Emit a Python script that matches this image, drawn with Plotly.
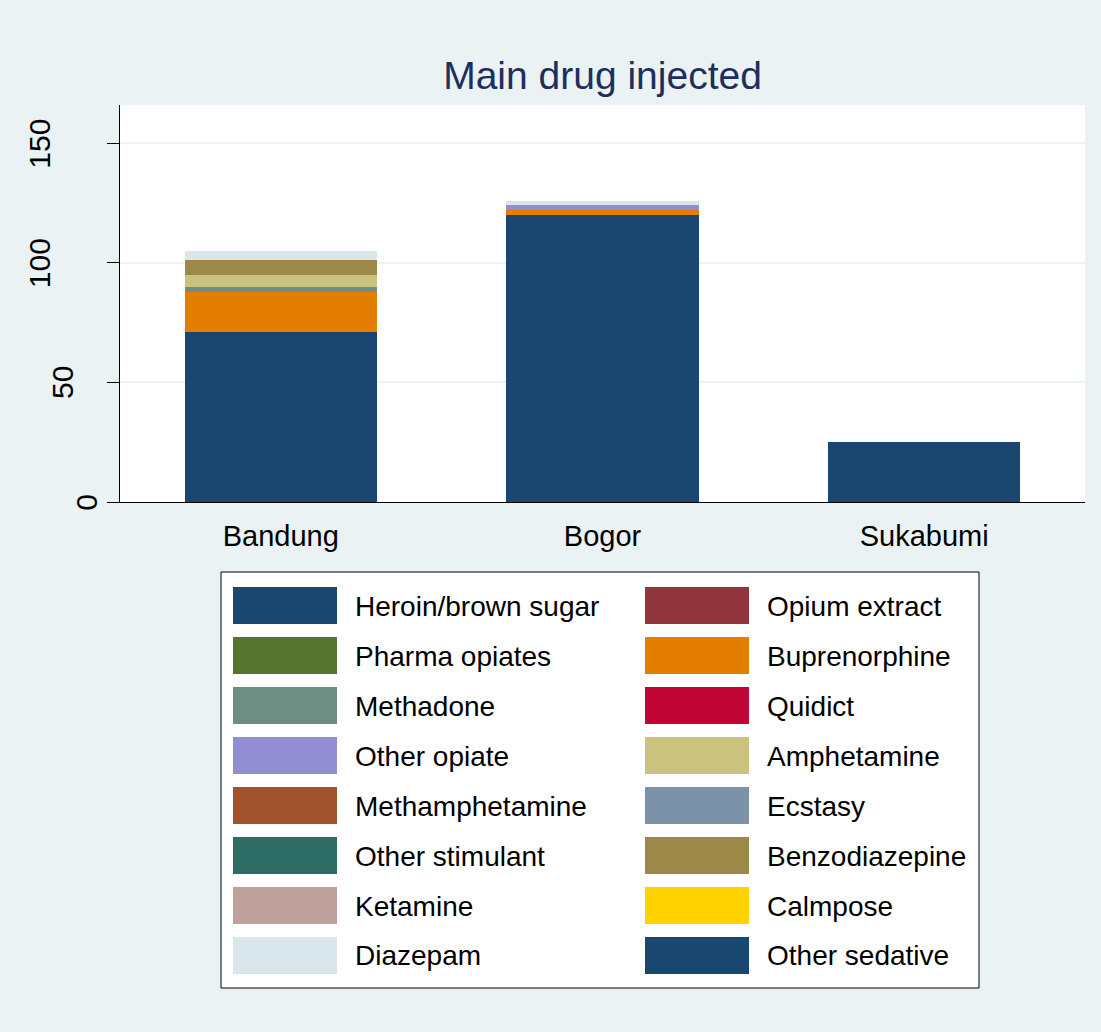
import plotly.graph_objects as go

# data
cities = ["Bandung", "Bogor", "Sukabumi"]

drugs = ["Heroin/brown sugar", "Opium extract", "Pharma opiates", "Buprenorphine",
         "Methadone", "Quidict", "Other opiate", "Amphetamine",
         "Methamphetamine", "Ecstasy", "Other stimulant", "Benzodiazepine",
         "Ketamine", "Calmpose", "Diazepam", "Other sedative"]

heroin = [71, 120, 25]
opium_extract = [0, 0, 0]
pharma_opiates = [0, 0, 0]
buprenorphine = [17, 2, 0]
methadone = [2, 0, 0]
quidict = [0, 0, 0]
other_opiate = [0, 2, 0]
amphetamine = [5, 0, 0]
methamphetamine = [0, 0, 0]
ecstasy = [0, 0, 0]
other_stimulant = [0, 0, 0]
benzodiazepine = [6, 0, 0]
ketamine = [0, 0, 0]
calmpose = [0, 0, 0]
diazepam = [4, 2, 0]
other_sedative = [0, 0, 0]

y_ticks = [0, 50, 100, 150]

values = [heroin, opium_extract, pharma_opiates, buprenorphine, methadone, quidict,
          other_opiate, amphetamine, methamphetamine, ecstasy, other_stimulant,
          benzodiazepine, ketamine, calmpose, diazepam, other_sedative]

# Stata s2color palette
colors = ["#1a476f", "#90353b", "#55752f", "#e37e00", "#6e8e84", "#c10534",
          "#938dd2", "#cac27e", "#a0522d", "#7b92a8", "#2d6d66", "#9c8847",
          "#bfa19c", "#ffd200", "#d9e6eb", "#1a476f"]

W, H = 1101, 1032
L, R, T, B = 120, 16, 105, 530
BG = "#eaf2f3"
FONT = "Liberation Sans, Arial, sans-serif"


def px_x(x):
    return (x - L) / (W - L - R)


def px_y(y):
    return (H - B - y) / (H - T - B)


fig = go.Figure()
for name, vals, col in zip(drugs, values, colors):
    fig.add_trace(go.Bar(x=cities, y=vals, name=name, marker_color=col,
                         marker_line_width=0, showlegend=False))

# legend drawn by hand (two columns, Stata style)
shapes = [dict(type="rect", xref="paper", yref="paper",
               x0=px_x(221), x1=px_x(979), y0=px_y(988), y1=px_y(572),
               line=dict(color="black", width=1), fillcolor="white", layer="below")]
annotations = []
for i, (name, col) in enumerate(zip(drugs, colors)):
    row, c = divmod(i, 2)
    sx = 233 if c == 0 else 645
    tx = 353 if c == 0 else 765
    top = 587 + 50 * row
    shapes.append(dict(type="rect", xref="paper", yref="paper",
                       x0=px_x(sx), x1=px_x(sx + 104), y0=px_y(top + 37), y1=px_y(top),
                       line=dict(width=0), fillcolor=col))
    annotations.append(dict(text=name, xref="paper", yref="paper",
                            x=px_x(tx), y=px_y(top + 19), xanchor="left", yanchor="middle",
                            showarrow=False, font=dict(size=28, color="black")))

# vertical y tick labels, placed the way Stata offsets them
for v in y_ticks:
    lab = str(v)
    cx = 109 - 23.2 * len(lab)
    annotations.append(dict(text=lab, xref="paper", yref="y", x=px_x(cx), y=v,
                            xanchor="center", yanchor="middle", textangle=-90,
                            showarrow=False, font=dict(size=30, color="black")))

fig.update_layout(
    width=W, height=H,
    margin=dict(l=L, r=R, t=T, b=B),
    barmode="stack", bargap=0.403,
    paper_bgcolor=BG, plot_bgcolor="white",
    font=dict(family=FONT, color="black"),
    title=dict(text="Main drug injected", x=0.5, xanchor="center", xref="paper",
               y=1 - 75 / H, yanchor="middle",
               font=dict(size=39, color="#1c2f5e")),
    xaxis=dict(showline=True, linecolor="black", linewidth=1, ticks="",
               tickfont=dict(size=29), ticklabelstandoff=8, showgrid=False),
    yaxis=dict(range=[0, 166], tickvals=y_ticks, showticklabels=False,
               showline=True, linecolor="black", linewidth=1, ticks="outside",
               ticklen=12, tickcolor="black",
               showgrid=True, gridcolor=BG, gridwidth=2, zeroline=False),
    shapes=shapes, annotations=annotations,
)

fig.write_html("out.html", config={"displayModeBar": False},
               post_script="document.body.style.margin='0';")
